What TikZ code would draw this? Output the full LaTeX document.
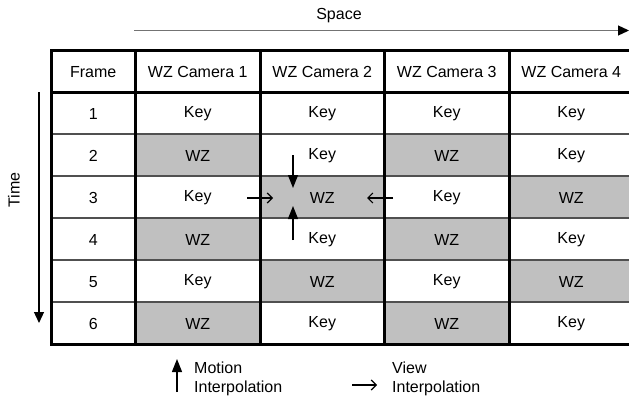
\documentclass[tikz,border=0pt]{standalone}
\usepackage{fontspec}
\setmainfont{Liberation Sans}
\usetikzlibrary{arrows.meta}

\definecolor{wzgray}{RGB}{192,192,192}
\definecolor{rowline}{RGB}{80,80,80}

\begin{document}
\begin{tikzpicture}[x=1pt, y=-1pt, line join=miter,
  font=\fontsize{16}{19}\selectfont]

% ---------------- styles ----------------
\tikzset{
  cell/.style   ={minimum width=124.5pt, minimum height=42pt, inner sep=0pt},
  Key/.style    ={cell},
  WZ/.style     ={cell, fill=wzgray},
  framecol/.style={cell, minimum width=84pt},
  rowrule/.style={draw=rowline, line width=1.6pt},
  bold/.style   ={draw=black, line width=3pt},
  axis/.style   ={-{Triangle[length=11pt, width=10pt, fill=black, color=black]}, line width=1.2pt},
  motion/.style ={-{Triangle[length=13pt, width=10pt]}, line width=1.4pt},
  view/.style   ={-{Straight Barb[length=5pt, width=10pt]}, line width=1.2pt},
  legend/.style ={anchor=west, align=left, inner sep=0pt}
}

% ---------------- parameters ----------------
\def\xL{51}       % left border
\def\xF{135.5}    % frame column right border
\def\cw{124.5}    % camera column width
\def\xR{634}      % right border (cut by the page)
\def\yT{51}       % top border
\def\yH{92}       % header bottom
\def\rh{42}       % row height
\def\yB{344}      % bottom border

\clip (0,0) rectangle (629,396);

% ---------------- cells ----------------
\node[framecol] (hFrame) at (93.25,72) {Frame};
\foreach \i in {1,...,4}
  \node[cell] (h\i) at ({\xF+\cw*(\i-0.5)},72) {WZ Camera \i};

\foreach \r/\a/\b/\c/\d in {1/Key/Key/Key/Key, 2/WZ/Key/WZ/Key,
                            3/Key/WZ/Key/WZ,   4/WZ/Key/WZ/Key,
                            5/Key/WZ/Key/WZ,   6/WZ/Key/WZ/Key}{
  \node[framecol] (f\r) at (93.25,{\yH+\rh*(\r-0.5)+1}) {\r};
  \node[\a] (c\r-1) at ({\xF+\cw*0.5},{\yH+\rh*(\r-0.5)+1}) {\a};
  \node[\b] (c\r-2) at ({\xF+\cw*1.5},{\yH+\rh*(\r-0.5)+1}) {\b};
  \node[\c] (c\r-3) at ({\xF+\cw*2.5},{\yH+\rh*(\r-0.5)+1}) {\c};
  \node[\d] (c\r-4) at ({\xF+\cw*3.5},{\yH+\rh*(\r-0.5)+1}) {\d};
}

% ---------------- grid ----------------
\foreach \r in {1,...,5}
  \draw[rowrule] (\xL,{\yH+\rh*\r}) -- (\xR,{\yH+\rh*\r});
\draw[bold] (\xL,\yH) -- (\xR,\yH);
\foreach \x in {\xF, 260, 384.5, 509}
  \draw[bold] (\x,\yT) -- (\x,\yB);
\draw[bold] (\xL,\yT) rectangle (\xR,\yB);

% ---------------- axes ----------------
\coordinate (spaceL) at (134,30.5);
\coordinate (spaceR) at (629,30.5);
\node (space) at (339,16) {Space};
\draw[axis, draw=black!55] (spaceL) -- (spaceR);

\coordinate (timeT) at (39,92);
\coordinate (timeB) at (39,323);
\node[rotate=90] (time) at (14,190) {Time};
\draw[axis, draw=black] (timeT) -- (timeB);

% ---------------- interpolation into frame 3, camera 2 ----------------
\coordinate (mTop)  at (293,155);
\coordinate (mTopE) at (293,188);
\coordinate (mBot)  at (293,240);
\coordinate (mBotE) at (293,206);
\coordinate (vL)    at (247,198);
\coordinate (vLE)   at (273,198);
\coordinate (vR)    at (393,198);
\coordinate (vRE)   at (367,198);
\draw[motion] (mTop) -- (mTopE);
\draw[motion] (mBot) -- (mBotE);
\draw[view]   (vL) -- (vLE);
\draw[view]   (vR) -- (vRE);

% ---------------- legend ----------------
\coordinate (lgM)  at (177,392);
\coordinate (lgME) at (177,359);
\coordinate (lgV)  at (352,385);
\coordinate (lgVE) at (377,385);
\draw[motion] (lgM) -- (lgME);
\draw[view]   (lgV) -- (lgVE);
\node[legend] (lgMotion) at (194,378.5) {Motion\\Interpolation};
\node[legend] (lgView)   at (392,378.5) {View\\Interpolation};

\end{tikzpicture}
\end{document}
